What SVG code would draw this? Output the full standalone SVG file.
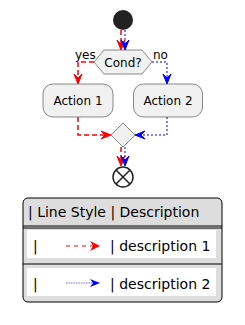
<svg xmlns="http://www.w3.org/2000/svg" width="245" height="325" viewBox="0 0 245 325">
<style>
.node{fill:#F1F1F1;stroke:#181818;stroke-width:0.5}
.t{font-family:"DejaVu Sans",sans-serif;font-size:12px;fill:#000}
.lt{font-family:"DejaVu Sans",sans-serif;font-size:14px;fill:#000}
.red{fill:none;stroke:#FF0000;stroke-width:1.5;stroke-dasharray:5 3}
.blue{fill:none;stroke:#0000FF;stroke-width:1;stroke-dasharray:2 2}
.rh{fill:#FF0000;stroke:#FF0000}
.bh{fill:#0000FF;stroke:#0000FF}
</style>
<defs>
<path id="ad" d="M0,0 L-4,-10 L0,-6 L4,-10 Z"/>
</defs>
<rect width="245" height="325" fill="#fff"/>
<g id="start"><circle cx="123" cy="20" r="10" fill="#222"/></g>
<g id="cond" class="node-group">
<polygon class="node" points="94,62 104,50 142,50 152,62 142,74 104,74"/>
<text class="t" x="123" y="66.5" text-anchor="middle">Cond?</text>
</g>
<g id="action1"><rect class="node" x="43" y="84" width="70" height="33" rx="10"/><text class="t" x="78" y="105" text-anchor="middle">Action 1</text></g>
<g id="action2"><rect class="node" x="133.5" y="84" width="69" height="33" rx="10"/><text class="t" x="168" y="105" text-anchor="middle">Action 2</text></g>
<g id="merge"><polygon class="node" points="123,123 135,135 123,147 111,135"/></g>
<g id="end"><circle cx="123" cy="177" r="10" fill="none" stroke="#222" stroke-width="1.5"/><path d="M116,170 L130,184 M130,170 L116,184" stroke="#222" stroke-width="1.5"/></g>
<g id="connectors">
<path class="red" d="M121,30 V46"/><use href="#ad" x="121" y="50" class="rh" transform=""/>
<path class="blue" d="M125,30 V46"/><use href="#ad" x="125" y="50" class="bh"/>
<path class="red" d="M94,62 H78 V80"/><use href="#ad" x="78" y="84" class="rh"/>
<text class="t" x="75" y="59" text-anchor="start" font-size="12">yes</text>
<path class="blue" d="M152,62 H167 V80"/><use href="#ad" x="167" y="84" class="bh"/>
<text class="t" x="153" y="59">no</text>
<path class="red" d="M78,117 V135 H107"/><path class="rh" d="M111,135 L101,131 L105,135 L101,139 Z"/>
<path class="blue" d="M167,117 V135 H139"/><path class="bh" d="M135,135 L145,131 L141,135 L145,139 Z"/>
<path class="red" d="M121,147 V162"/><use href="#ad" x="121" y="166" class="rh"/>
<path class="blue" d="M125,147 V162"/><use href="#ad" x="125" y="166" class="bh"/>
</g>
<g id="legend">
<rect x="23" y="198" width="199" height="104" rx="5" fill="#DDDDDD" stroke="#000" stroke-width="1"/>
<text class="lt" x="28" y="217">| Line Style | Description</text>
<path d="M23,226 H222 M23,228 H222" stroke="#000" stroke-width="1"/>
<rect x="27" y="230" width="189" height="28" fill="#fff"/>
<text class="lt" x="33" y="251">|</text>
<path d="M66,246 H95" stroke="#FF0000" stroke-width="1" stroke-dasharray="4 4" fill="none"/>
<path d="M100,246 L90,241 L93,246 L90,251 Z" fill="#FF0000"/>
<text class="lt" x="110" y="251">| description 1</text>
<path d="M23,264 H222" stroke="#000" stroke-width="1"/>
<rect x="27" y="268" width="189" height="28" fill="#fff"/>
<text class="lt" x="33" y="289">|</text>
<path d="M66,283 H95" stroke="#0000FF" stroke-width="0.6" stroke-dasharray="1.5 1" fill="none"/>
<path d="M100,283 L90,279 L93,283 L90,287 Z" fill="#0000FF"/>
<text class="lt" x="110" y="289">| description 2</text>
</g>
</svg>
